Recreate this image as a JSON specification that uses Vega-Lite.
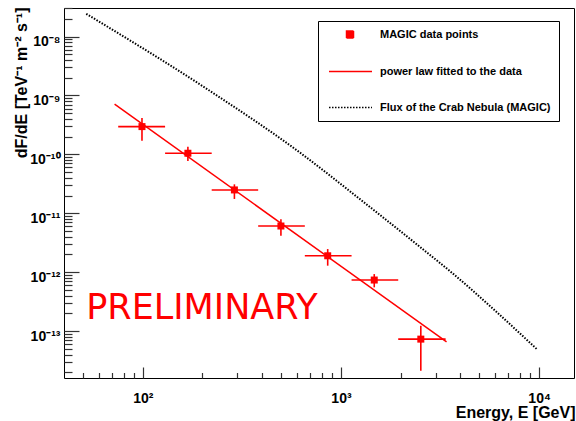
{
  "$schema": "https://vega.github.io/schema/vega-lite/v6.json",
  "width": 510,
  "height": 370,
  "autosize": "none",
  "padding": {"left": 64, "top": 8, "right": 2, "bottom": 43},
  "background": "white",
  "config": {
    "view": {"stroke": "black", "strokeWidth": 1},
    "font": "Liberation Sans",
    "axis": {"grid": false, "domainColor": "black", "tickColor": "#333333", "labelColor": "black", "titleColor": "black"}
  },
  "datasets": {
    "points": [
      {"E": 99, "Elo": 75.1, "Ehi": 129.5, "F": 2.96e-10, "Flo": 1.71e-10, "Fhi": 4.16e-10},
      {"E": 168.8, "Elo": 129.5, "Ehi": 222.6, "F": 1.045e-10, "Flo": 7.73e-11, "Fhi": 1.35e-10},
      {"E": 289.8, "Elo": 222.6, "Ehi": 382, "F": 2.49e-11, "Flo": 1.75e-11, "Fhi": 3.1e-11},
      {"E": 497.6, "Elo": 382, "Ehi": 657, "F": 6.08e-12, "Flo": 4.16e-12, "Fhi": 7.91e-12},
      {"E": 857, "Elo": 657, "Ehi": 1131, "F": 1.9e-12, "Flo": 1.29e-12, "Fhi": 2.47e-12},
      {"E": 1472, "Elo": 1131, "Ehi": 1945, "F": 7.36e-13, "Flo": 5.53e-13, "Fhi": 9.29e-13},
      {"E": 2529, "Elo": 1945, "Ehi": 3374, "F": 7.31e-14, "Flo": 2.12e-14, "Fhi": 1.23e-13}
    ],
    "fit": [
      {"E": 72, "F": 7.1e-10},
      {"E": 3411, "F": 6.58e-14}
    ],
    "crab": [
      {"E": 51.8, "F": 2.43e-8},
      {"E": 214.3, "F": 1.24e-9},
      {"E": 621, "F": 1.07e-10},
      {"E": 1262, "F": 1.68e-11},
      {"E": 2500, "F": 2.7e-12},
      {"E": 3545, "F": 1.045e-12},
      {"E": 9772, "F": 4.89e-14}
    ]
  },
  "layer": [
    {
      "data": {"name": "points"},
      "mark": {"type": "rule", "strokeWidth": 1.6},
      "encoding": {
        "x": {"field": "Elo", "type": "quantitative", "scale": {"type": "log", "domain": [40, 15000], "nice": false},
          "axis": {
            "orient": "bottom",
            "values": [100, 1000, 10000],
            "labelExpr": "datum.value < 500 ? '10²' : datum.value < 5000 ? '10³' : '10⁴'",
            "offset": -11, "ticks": true, "tickSize": 11, "tickWidth": 1.2, "domain": false, "zindex": 2,
            "labelFont": "Liberation Sans", "labelFontWeight": "bold", "labelFontSize": 14,
            "labelBaseline": "alphabetic", "labelAlign": "center", "labelPadding": 24, "labelFlush": false, "labelOverlap": false,
            "title": "Energy, E [GeV]", "titleFont": "Liberation Sans", "titleFontWeight": "bold", "titleFontSize": 16,
            "titleX": 511, "titleY": 45, "titleAlign": "right", "titleBaseline": "middle", "titleAnchor": null
          }},
        "x2": {"field": "Ehi"},
        "y": {"field": "F", "type": "quantitative", "scale": {"type": "log", "domain": [1.6e-14, 3.05e-8], "nice": false},
          "axis": {
            "orient": "left",
            "values": [1e-13, 1e-12, 1e-11, 1e-10, 1e-9, 1e-8],
            "labelExpr": "datum.value < 5e-13 ? '10⁻¹³' : datum.value < 5e-12 ? '10⁻¹²' : datum.value < 5e-11 ? '10⁻¹¹' : datum.value < 5e-10 ? '10⁻¹⁰' : datum.value < 5e-9 ? '10⁻⁹' : '10⁻⁸'",
            "offset": -15, "ticks": true, "tickSize": 15, "tickWidth": 1.2, "domain": false, "zindex": 2,
            "labelFont": "Liberation Sans", "labelFontWeight": "bold", "labelFontSize": 14,
            "labelBaseline": "alphabetic", "labelAlign": "right", "labelPadding": 4, "labelOffset": 9, "labelFlush": false, "labelOverlap": false,
            "title": "dF/dE [TeV⁻¹ m⁻² s⁻¹]", "titleFont": "Liberation Sans", "titleFontWeight": "bold", "titleFontSize": 16,
            "titleX": -52.5, "titleY": -1, "titleAngle": 270, "titleAlign": "right", "titleBaseline": "alphabetic", "titleAnchor": null
          }},
        "color": {"datum": "MAGIC data points", "type": "nominal",
          "scale": {"domain": ["MAGIC data points", "power law fitted to the data", "Flux of the Crab Nebula (MAGIC)"], "range": ["#ff0000", "#ff0000", "#000000"]},
          "legend": {
            "orient": "none", "legendX": 254, "legendY": 13, "title": null,
            "fillColor": "white", "strokeColor": "black", "padding": 8,
            "symbolSize": 49, "labelOffset": 43, "rowPadding": 24,
            "labelFont": "Liberation Sans", "labelFontWeight": "bold", "labelFontSize": 11, "labelColor": "black", "labelLimit": 400,
            "encode": {
              "symbols": {
                "update": {
                  "shape": {"signal": "datum.value === 'MAGIC data points' ? 'M4.29,-1H6.29V1H4.29Z' : 'M-0.71,0H11.57'"},
                  "fill": {"signal": "datum.value === 'MAGIC data points' ? '#ff0000' : 'transparent'"},
                  "stroke": {"signal": "datum.value === 'MAGIC data points' ? 'transparent' : (datum.value === 'power law fitted to the data' ? '#ff0000' : '#000000')"},
                  "strokeDash": {"signal": "datum.value === 'Flux of the Crab Nebula (MAGIC)' ? [1.5, 1.5] : [1, 0]"},
                  "strokeWidth": {"value": 1.5},
                  "size": {"value": 49},
                  "opacity": {"value": 1}
                }
              }
            }
          }}
      }
    },
    {
      "data": {"name": "points"},
      "mark": {"type": "rule", "strokeWidth": 1.6},
      "encoding": {
        "x": {"field": "E", "type": "quantitative", "scale": {"type": "log", "domain": [40, 15000], "nice": false},
          "axis": {
            "orient": "bottom",
            "values": [50, 60, 70, 80, 90, 200, 300, 400, 500, 600, 700, 800, 900, 2000, 3000, 4000, 5000, 6000, 7000, 8000, 9000],
            "offset": -5.5, "ticks": true, "tickSize": 5.5, "tickWidth": 1.2, "labels": false, "domain": false, "title": null, "zindex": 2
          }},
        "y": {"field": "Flo", "type": "quantitative", "scale": {"type": "log", "domain": [1.6e-14, 3.05e-8], "nice": false},
          "axis": {
            "orient": "left",
            "values": [2e-14, 3e-14, 4e-14, 5e-14, 6e-14, 7e-14, 8e-14, 9e-14, 2e-13, 3e-13, 4e-13, 5e-13, 6e-13, 7e-13, 8e-13, 9e-13, 2e-12, 3e-12, 4e-12, 5e-12, 6e-12, 7e-12, 8e-12, 9e-12, 2e-11, 3e-11, 4e-11, 5e-11, 6e-11, 7e-11, 8e-11, 9e-11, 2e-10, 3e-10, 4e-10, 5e-10, 6e-10, 7e-10, 8e-10, 9e-10, 2e-9, 3e-9, 4e-9, 5e-9, 6e-9, 7e-9, 8e-9, 9e-9, 2e-8, 3e-8],
            "offset": -8, "ticks": true, "tickSize": 8, "tickWidth": 1.2, "labels": false, "domain": false, "title": null, "zindex": 2
          }},
        "y2": {"field": "Fhi"},
        "color": {"datum": "MAGIC data points", "type": "nominal"}
      }
    },
    {
      "data": {"name": "points"},
      "mark": {"type": "square", "size": 49, "filled": true, "opacity": 1},
      "encoding": {
        "x": {"field": "E", "type": "quantitative", "scale": {"type": "log", "domain": [40, 15000], "nice": false}, "axis": null},
        "y": {"field": "F", "type": "quantitative", "scale": {"type": "log", "domain": [1.6e-14, 3.05e-8], "nice": false}, "axis": null},
        "color": {"datum": "MAGIC data points", "type": "nominal"}
      }
    },
    {
      "data": {"name": "fit"},
      "mark": {"type": "line", "strokeWidth": 1.5},
      "encoding": {
        "x": {"field": "E", "type": "quantitative", "scale": {"type": "log", "domain": [40, 15000], "nice": false}, "axis": null},
        "y": {"field": "F", "type": "quantitative", "scale": {"type": "log", "domain": [1.6e-14, 3.05e-8], "nice": false}, "axis": null},
        "color": {"datum": "power law fitted to the data", "type": "nominal"}
      }
    },
    {
      "data": {"name": "crab"},
      "mark": {"type": "line", "strokeWidth": 2, "strokeDash": [1.5, 1.5], "interpolate": "monotone"},
      "encoding": {
        "x": {"field": "E", "type": "quantitative", "scale": {"type": "log", "domain": [40, 15000], "nice": false}, "axis": null},
        "y": {"field": "F", "type": "quantitative", "scale": {"type": "log", "domain": [1.6e-14, 3.05e-8], "nice": false}, "axis": null},
        "color": {"datum": "Flux of the Crab Nebula (MAGIC)", "type": "nominal"}
      }
    },
    {
      "data": {"values": [{"label": "PRELIMINARY", "E": 51.8, "F": 1.58e-13}]},
      "mark": {"type": "text", "font": "DejaVu Sans", "fontSize": 35, "color": "#ff0000", "align": "left", "baseline": "alphabetic"},
      "encoding": {
        "x": {"field": "E", "type": "quantitative", "scale": {"type": "log", "domain": [40, 15000], "nice": false}, "axis": null},
        "y": {"field": "F", "type": "quantitative", "scale": {"type": "log", "domain": [1.6e-14, 3.05e-8], "nice": false}, "axis": null},
        "text": {"field": "label"}
      }
    }
  ],
  "resolve": {"axis": {"x": "independent", "y": "independent"}}
}
